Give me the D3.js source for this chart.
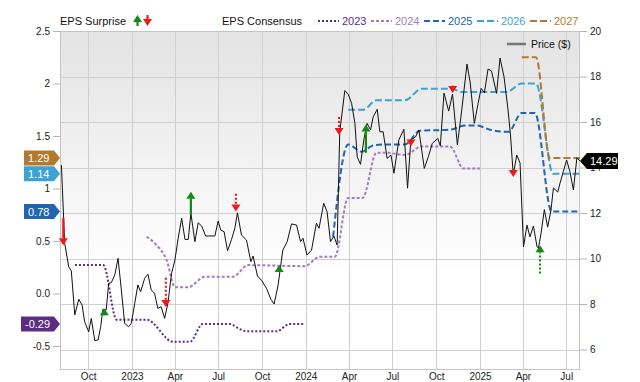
<!DOCTYPE html>
<html><head><meta charset="utf-8">
<script src="https://cdn.jsdelivr.net/npm/d3@7"></script>
<style>body{margin:0;background:#fff}svg{display:block;font-family:"Liberation Sans",Arial,sans-serif}</style>
</head><body><svg id="c" width="640" height="382"></svg>
<script>
// ---------- DATA (dates as decimal years) ----------
const priceYear = [2022.594,2022.613,2022.636,2022.651,2022.671,2022.694,2022.713,2022.728,2022.751,2022.766,
2022.786,2022.805,2022.820,2022.833,2022.852,2022.866,2022.881,2022.901,2022.920,2022.939,
2022.958,2022.981,2022.996,2023.016,2023.034,2023.050,2023.073,2023.092,2023.111,2023.130,
2023.149,2023.168,2023.188,2023.207,2023.228,2023.247,2023.266,2023.286,2023.305,2023.324,
2023.339,2023.362,2023.381,2023.401,2023.424,2023.448,2023.477,2023.496,2023.511,2023.530,
2023.550,2023.573,2023.592,2023.607,2023.630,2023.659,2023.684,2023.697,2023.722,2023.745,
2023.774,2023.799,2023.818,2023.841,2023.868,2023.893,2023.918,2023.947,2023.970,2023.984,
2024.007,2024.033,2024.061,2024.076,2024.103,2024.122,2024.142,2024.161,2024.180,2024.195,
2024.224,2024.243,2024.263,2024.282,2024.295,2024.314,2024.333,2024.352,2024.372,2024.387,
2024.410,2024.425,2024.444,2024.467,2024.489,2024.506,2024.534,2024.563,2024.584,2024.603,
2024.630,2024.649,2024.680,2024.703,2024.726,2024.757,2024.772,2024.793,2024.820,2024.842,
2024.870,2024.895,2024.925,2024.943,2024.967,2024.989,2025.006,2025.025,2025.046,2025.066,
2025.095,2025.115,2025.138,2025.161,2025.175,2025.191,2025.211,2025.230,2025.250,2025.270,
2025.287,2025.307,2025.328,2025.336,2025.351,2025.370,2025.389,2025.408,2025.422,2025.447,
2025.460,2025.479,2025.498,2025.517,2025.537,2025.557,2025.575];
const priceValue = [14.11,10.67,9.64,9.46,7.52,8.21,7.96,7.22,6.78,7.37,
6.39,6.42,7.00,7.77,7.74,8.91,8.94,9.27,10.01,8.62,
7.15,7.00,7.15,8.03,8.84,8.54,9.13,9.31,8.62,8.47,
7.81,7.88,7.37,8.04,9.35,9.93,10.89,11.77,10.84,10.84,
11.99,10.74,11.57,11.43,10.99,10.99,10.99,11.65,11.25,11.18,
10.34,10.84,11.33,12.01,11.03,10.81,9.86,10.11,9.23,9.05,
8.69,8.21,8.00,8.84,10.37,10.74,11.52,11.47,10.74,10.89,
10.15,10.37,11.55,11.33,12.43,12.06,10.74,10.99,10.59,15.57,
17.38,17.23,16.82,15.94,14.47,14.14,15.21,15.94,15.65,16.23,
16.56,15.57,15.57,14.40,14.55,13.75,15.21,15.68,13.09,15.21,
15.35,15.65,13.96,14.47,15.06,15.28,14.95,17.27,16.48,17.23,
14.99,16.53,18.55,17.76,15.94,16.82,17.48,17.29,18.33,18.24,
17.26,18.81,17.98,16.53,15.43,13.67,14.55,14.20,10.51,11.47,
10.95,11.43,10.51,10.46,11.12,12.15,11.38,12.13,13.10,12.92,
13.31,13.82,14.33,13.82,13.01,14.42,14.29];

const eps2023Year = [2022.672,2022.835,2022.912,2023.084,2023.237,2023.333,2023.408,2023.563,2023.621,2023.659,2023.832,2023.908,2023.994];
const eps2023Value = [0.27,0.27,-0.25,-0.25,-0.46,-0.46,-0.29,-0.29,-0.34,-0.36,-0.36,-0.29,-0.29];
const eps2024Year = [2023.084,2023.142,2023.199,2023.247,2023.324,2023.420,2023.582,2023.668,2023.994,2024.080,2024.167,2024.243,2024.326,2024.406,2024.460,2024.569,2024.665,2024.828,2024.905,2025.000];
const eps2024Value = [0.54,0.46,0.32,0.06,0.06,0.16,0.16,0.27,0.26,0.35,0.35,0.91,0.91,1.34,1.34,1.32,1.40,1.40,1.19,1.19];
const eps2025Year = [2024.157,2024.243,2024.320,2024.387,2024.483,2024.569,2024.655,2024.828,2024.914,2024.981,2025.057,2025.163,2025.240,2025.316,2025.412,2025.575];
const eps2025Value = [0.54,1.42,1.35,1.41,1.42,1.42,1.55,1.56,1.60,1.60,1.56,1.54,1.72,1.72,0.78,0.78];
const eps2026Year = [2024.243,2024.329,2024.406,2024.569,2024.665,2024.837,2024.895,2025.153,2025.240,2025.322,2025.421,2025.575];
const eps2026Value = [1.75,1.75,1.84,1.84,1.95,1.95,1.92,1.92,2.00,2.00,1.14,1.14];
const eps2027Year = [2025.240,2025.322,2025.402,2025.575];
const eps2027Value = [2.25,2.25,1.29,1.29];

const surpriseYear = [2022.605,2022.841,2023.195,2023.339,2023.598,2023.847,2024.191,2024.345,2024.603,2024.843,2025.191,2025.345];
const surpriseEstimate = [0.72,-0.21,0.15,0.75,0.95,0.21,1.68,1.34,1.47,1.98,1.18,0.19];
const surpriseActual = [0.46,-0.14,-0.13,0.97,0.78,0.27,1.51,1.61,1.40,1.91,1.11,0.46];

const consensusNames = ["2023","2024","2025","2026","2027"];
const epsTicks = [2.5,2,1.5,1,0.5,0,-0.5];
const epsTickLabels = ["2.5","2","1.5","1","0.5","0.0","-0.5"];
const priceTicks = [6,8,10,12,14,16,18,20];
const tagSeries = ["2027","2026","2025","2023"];
const tagLabels = ["1.29","1.14","0.78","-0.29"];
const lastPriceLabel = "14.29";
const xDomainYears = [2022.586, 2025.575];
const epsDomain = [-0.729, 2.5];
const priceDomain = [5.1, 20];

// ---------- STYLE ----------
const L=60, R=580, T=31, B=370;
const colors = {"2023":"#5b2c83","2024":"#a07cc1","2025":"#2165b0","2026":"#3ea2d3","2027":"#b27a2e"};
const dashes = {"2023":"2,2","2024":"3,2","2025":"6,3","2026":"7,3","2027":"7,3"};
const dottedArrows = new Set([2,4,6,11]);
const RED="#f01818", GREEN="#138a13";

function toDate(t){const y=Math.floor(t);const s=Date.UTC(y,0,1),e=Date.UTC(y+1,0,1);return new Date(s+(t-y)*(e-s));}

const series = {
  "2023": eps2023Year.map((t,i)=>({d:toDate(t),v:eps2023Value[i]})),
  "2024": eps2024Year.map((t,i)=>({d:toDate(t),v:eps2024Value[i]})),
  "2025": eps2025Year.map((t,i)=>({d:toDate(t),v:eps2025Value[i]})),
  "2026": eps2026Year.map((t,i)=>({d:toDate(t),v:eps2026Value[i]})),
  "2027": eps2027Year.map((t,i)=>({d:toDate(t),v:eps2027Value[i]}))
};
const price = priceYear.map((t,i)=>({d:toDate(t),v:priceValue[i]}));

const svg = d3.select("#c");
const x = d3.scaleUtc().domain(xDomainYears.map(toDate)).range([L,R]);
const yE = d3.scaleLinear().domain(epsDomain).range([B,T]);
const yP = d3.scaleLinear().domain(priceDomain).range([B,T]);

const defs = svg.append("defs");
const g = defs.append("linearGradient").attr("id","bg").attr("x1",0).attr("y1",0).attr("x2",0).attr("y2",1);
g.append("stop").attr("offset","0%").attr("stop-color","#e3e3e3");
g.append("stop").attr("offset","72%").attr("stop-color","#ffffff");
defs.append("clipPath").attr("id","clip").append("rect").attr("x",L).attr("y",T).attr("width",R-L).attr("height",B-T);

svg.append("rect").attr("x",L).attr("y",T).attr("width",R-L).attr("height",B-T).attr("fill","url(#bg)");

// grid
const xTicks = x.ticks(d3.utcMonth.every(3));
svg.append("g").selectAll("line").data(xTicks).join("line")
  .attr("x1",d=>Math.round(x(d))+0.5).attr("x2",d=>Math.round(x(d))+0.5).attr("y1",T).attr("y2",B)
  .attr("stroke","#cfcfcf").attr("stroke-width",1);
svg.append("g").selectAll("line").data(priceTicks).join("line")
  .attr("x1",L).attr("x2",R).attr("y1",d=>Math.round(yP(d))+0.5).attr("y2",d=>Math.round(yP(d))+0.5)
  .attr("stroke","#cfcfcf").attr("stroke-width",1);
svg.append("rect").attr("x",L+0.5).attr("y",T+0.5).attr("width",R-L-1).attr("height",B-T-1)
  .attr("fill","none").attr("stroke","#c4c4c4");

// axes
const axL = svg.append("g").attr("transform",`translate(${L},0)`)
  .call(d3.axisLeft(yE).tickValues(epsTicks).tickFormat((d,i)=>epsTickLabels[i]).tickSize(7).tickPadding(3));
const axR = svg.append("g").attr("transform",`translate(${R},0)`)
  .call(d3.axisRight(yP).tickValues(priceTicks).tickSize(7).tickPadding(3));
const axB = svg.append("g").attr("transform",`translate(0,${B})`)
  .call(d3.axisBottom(x).ticks(d3.utcMonth.every(3))
    .tickFormat(d=>d.getUTCMonth()===0?d3.utcFormat("%Y")(d):d3.utcFormat("%b")(d)).tickSize(0).tickPadding(3));
[axL,axR,axB].forEach(a=>{
  a.select(".domain").remove();
  a.selectAll(".tick line").attr("stroke","#b5b5b5");
  a.selectAll("text").attr("fill","#222").attr("font-size",10).attr("font-family","Liberation Sans, Arial, sans-serif");
});

// consensus lines
const plot = svg.append("g").attr("clip-path","url(#clip)");
const lineE = d3.line().x(d=>x(d.d)).y(d=>yE(d.v)).curve(d3.curveMonotoneX);
consensusNames.forEach(n=>{
  plot.append("path").datum(series[n]).attr("d",lineE).attr("fill","none")
    .attr("stroke",colors[n]).attr("stroke-width",2).attr("stroke-dasharray",dashes[n]);
});

// price line
const lineP = d3.line().x(d=>x(d.d)).y(d=>yP(d.v));
plot.append("path").datum(price).attr("d",lineP).attr("fill","none")
  .attr("stroke","#111").attr("stroke-width",1).attr("stroke-linejoin","round");

// surprise arrows
function drawArrow(sel, cx, y1, y2, color, dotted){
  const up = y2 < y1;
  const hh = 7, hw = 4.5;
  const base = up ? y2 + hh : y2 - hh;
  if ((up && base < y1) || (!up && base > y1)) {
    sel.append("line").attr("x1",cx).attr("x2",cx).attr("y1",y1).attr("y2",base)
      .attr("stroke",color).attr("stroke-width",2.2).attr("stroke-dasharray",dotted?"2,2":null);
  }
  sel.append("path").attr("d",`M${cx-hw},${base}L${cx+hw},${base}L${cx},${y2}Z`).attr("fill",color);
}
const arrows = svg.append("g");
surpriseYear.forEach((t,i)=>{
  const cx = x(toDate(t));
  const up = surpriseActual[i] > surpriseEstimate[i];
  drawArrow(arrows, cx, yE(surpriseEstimate[i]), yE(surpriseActual[i]), up?GREEN:RED, dottedArrows.has(i));
});

// left tags
const tagG = svg.append("g");
tagSeries.forEach((n,i)=>{
  const s = series[n]; const v = s[s.length-1].v;
  const cy = yE(v), h = 15, x1 = L, x0 = tagLabels[i].length>4 ? 21 : 24;
  tagG.append("path").attr("d",`M${x0},${cy-h/2}L${x1-6},${cy-h/2}L${x1},${cy}L${x1-6},${cy+h/2}L${x0},${cy+h/2}Z`).attr("fill",colors[n]);
  tagG.append("text").attr("x",x0+4).attr("y",cy+4).attr("fill","#fff").attr("font-size",11).text(tagLabels[i]);
});
// right price tag
{
  const cy = yP(price[price.length-1].v), h = 16;
  tagG.append("path").attr("d",`M${R},${cy}L${R+7},${cy-h/2}L${R+38},${cy-h/2}L${R+38},${cy+h/2}L${R+7},${cy+h/2}Z`).attr("fill","#000");
  tagG.append("text").attr("x",R+10).attr("y",cy+4).attr("fill","#fff").attr("font-size",11).text(lastPriceLabel);
}

// legend
const lg = svg.append("g").attr("font-size",11);
lg.append("text").attr("x",60).attr("y",25).attr("fill","#111").text("EPS Surprise");
drawArrow(lg, 137.5, 26, 15, GREEN, false);
drawArrow(lg, 147.5, 15, 26, RED, false);
lg.append("text").attr("x",222).attr("y",25).attr("fill","#111").text("EPS Consensus");
const legX = [318,371,424,477,530];
consensusNames.forEach((n,i)=>{
  lg.append("line").attr("x1",legX[i]).attr("x2",legX[i]+21).attr("y1",21).attr("y2",21)
    .attr("stroke",colors[n]).attr("stroke-width",2).attr("stroke-dasharray",dashes[n]);
  lg.append("text").attr("x",legX[i]+24).attr("y",25).attr("fill",colors[n]).text(n);
});
lg.append("line").attr("x1",507).attr("x2",526).attr("y1",44).attr("y2",44).attr("stroke","#777").attr("stroke-width",2.5);
lg.append("text").attr("x",531).attr("y",48).attr("fill","#111").attr("font-size",10.5).text("Price ($)");
</script></body></html>
